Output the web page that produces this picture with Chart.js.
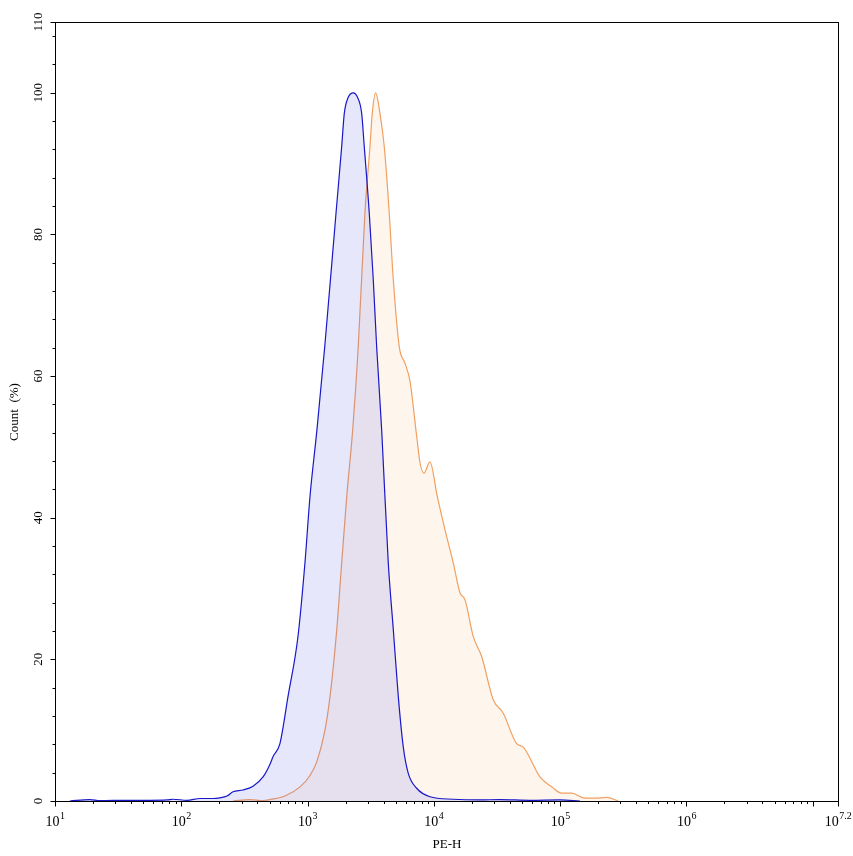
<!DOCTYPE html>
<html>
<head>
<meta charset="utf-8">
<script src="https://cdn.jsdelivr.net/npm/chart.js@4.4.1/dist/chart.umd.min.js"></script>
<style>
  html, body { margin: 0; padding: 0; background: #fff; }
  #wrap { width: 853px; height: 856px; position: relative; }
</style>
</head>
<body>
<div id="wrap"><canvas id="chart"></canvas></div>
<script>
// PE-H channel values and count (%)
const blueX = [13.1, 18.9, 22.7, 37.2, 56.5, 77.1, 86, 111, 141, 178, 202, 230, 257, 308, 370, 444, 504,
  532, 604, 699, 839, 953, 1045, 1186, 1373, 1679, 1862, 1953, 2090, 2301, 2462, 2681, 2811, 3080,
  3313, 3524, 3861, 4355, 4773, 5230, 5727, 6271, 7309, 9313, 14160, 23170, 33340, 57630, 99600, 143500];
const blueY = [0, 0.2, 0.05, 0.1, 0.1, 0.15, 0.25, 0.1, 0.35, 0.35, 0.45, 0.7, 1.3, 1.55, 2.1, 3.4, 5.2,
  6.25, 8.1, 14.7, 23.2, 33.6, 43.0, 52.4, 64.5, 83.0, 92.4, 97.1, 99.3, 100, 99.5, 97.1, 92.4, 83.0,
  73.6, 64.1, 52.4, 33.6, 24.2, 14.7, 7.6, 3.9, 1.8, 0.6, 0.25, 0.15, 0.2, 0.1, 0.15, 0];

const orangeX = [257, 350, 444, 504, 662, 871, 1045, 1186, 1373, 1504, 1700, 1862, 2042, 2276, 2518,
  2844, 3118, 3252, 3459, 3741, 4048, 4433, 4773, 5327, 5908, 6470, 7309, 7762, 8351, 9313, 10640,
  12250, 14250, 16100, 17640, 20520, 23900, 29520, 35420, 45190, 51010, 69180, 85650, 102800, 123400,
  157100, 188700, 233500, 288400];
const orangeY = [0, 0.2, 0.05, 0.2, 0.7, 2.0, 3.6, 5.6, 10.0, 14.7, 24.1, 33.6, 43.0, 52.4, 64.1,
  83.0, 92.4, 97.1, 100, 97.1, 92.4, 83.0, 73.6, 64.1, 61.8, 59.3, 51.5, 47.8, 46.3, 47.9, 43.0,
  38.3, 33.6, 29.4, 28.4, 23.2, 20.4, 14.3, 12.4, 8.1, 7.6, 3.4, 2.0, 1.1, 1.1,
  0.4, 0.4, 0.5, 0];

const xDecades = [1, 2, 3, 4, 5, 6, 7.2];
const yLabels = [0, 20, 40, 60, 80, 100, 110];
const yMinorStep = 4;
const xTitle = 'PE-H';
const yTitle = 'Count  (%)';

const pts = (xs, ys) => xs.map((v, i) => ({ x: v, y: ys[i] }));
const FONT = '"Liberation Serif", "Times New Roman", serif';

const axesPlugin = {
  id: 'flowAxes',
  afterDraw(chart) {
    const { ctx, chartArea: a, scales: { x, y } } = chart;
    ctx.save();
    ctx.strokeStyle = '#000';
    ctx.lineWidth = 1;
    const L = Math.round(a.left) + 0.5, R = Math.round(a.right) + 0.5;
    const T = Math.round(a.top) + 0.5, B = Math.round(a.bottom) + 0.5;
    ctx.strokeRect(L, T, R - L, B - T);

    // y ticks
    ctx.beginPath();
    for (let v = 0; v <= y.max; v += yMinorStep) {
      const py = Math.round(y.getPixelForValue(v)) + 0.5;
      const len = v % 20 === 0 ? 5 : 3;
      ctx.moveTo(L - len, py); ctx.lineTo(L, py);
    }
    ctx.moveTo(L - 5, T); ctx.lineTo(L, T);
    // x ticks
    const xmax = x.max;
    for (let d = 1; d <= 7; d++) {
      for (let k = 1; k <= 9; k++) {
        const v = k * Math.pow(10, d);
        if (v > xmax * 1.0001) break;
        const px = Math.round(x.getPixelForValue(v)) + 0.5;
        const len = k === 1 ? 5 : 2.5;
        ctx.moveTo(px, B); ctx.lineTo(px, B + len);
      }
    }
    ctx.moveTo(R, B); ctx.lineTo(R, B + 5);
    ctx.stroke();

    ctx.fillStyle = '#000';
    // y labels, rotated
    ctx.font = '13px ' + FONT;
    ctx.textAlign = 'center';
    ctx.textBaseline = 'middle';
    yLabels.forEach(v => {
      const py = y.getPixelForValue(v);
      ctx.save();
      ctx.translate(L - 17, py);
      ctx.rotate(-Math.PI / 2);
      ctx.fillText(String(v), 0, 0);
      ctx.restore();
    });

    // x labels 10^n
    ctx.textBaseline = 'alphabetic';
    ctx.textAlign = 'left';
    xDecades.forEach(d => {
      const px = x.getPixelForValue(Math.pow(10, d));
      ctx.font = '14px ' + FONT;
      const w1 = ctx.measureText('10').width;
      ctx.font = '10px ' + FONT;
      const sup = String(d);
      const w2 = ctx.measureText(sup).width;
      const sx = px - (w1 + w2) / 2;
      ctx.font = '14px ' + FONT;
      ctx.fillText('10', sx, B + 24);
      ctx.font = '10px ' + FONT;
      ctx.fillText(sup, sx + w1 + 0.5, B + 17);
    });

    // axis titles
    ctx.font = '13px ' + FONT;
    ctx.textAlign = 'center';
    ctx.fillText(xTitle, (L + R) / 2, B + 46);
    ctx.save();
    ctx.translate(18, (T + B) / 2);
    ctx.rotate(-Math.PI / 2);
    ctx.fillText(yTitle, 0, 0);
    ctx.restore();
    ctx.restore();
  }
};

new Chart(document.getElementById('chart'), {
  type: 'line',
  data: {
    datasets: [
      {
        label: 'blue',
        data: pts(blueX, blueY),
        borderColor: '#1818c8',
        backgroundColor: 'rgba(60,60,230,0.12)',
        borderWidth: 1.2,
        fill: 'origin',
        pointRadius: 0,
        cubicInterpolationMode: 'monotone'
      },
      {
        label: 'orange',
        data: pts(orangeX, orangeY),
        borderColor: '#f0a060',
        backgroundColor: 'rgba(245,160,80,0.1)',
        borderWidth: 1.2,
        fill: 'origin',
        pointRadius: 0,
        cubicInterpolationMode: 'monotone'
      }
    ]
  },
  options: {
    responsive: true,
    maintainAspectRatio: false,
    animation: false,
    layout: { padding: { left: 55, right: 15, top: 22, bottom: 55 } },
    plugins: { legend: { display: false }, tooltip: { enabled: false } },
    scales: {
      x: { type: 'logarithmic', min: 10, max: Math.pow(10, 7.2), display: false },
      y: { type: 'linear', min: 0, max: 110, display: false }
    }
  },
  plugins: [axesPlugin]
});
</script>
</body>
</html>
